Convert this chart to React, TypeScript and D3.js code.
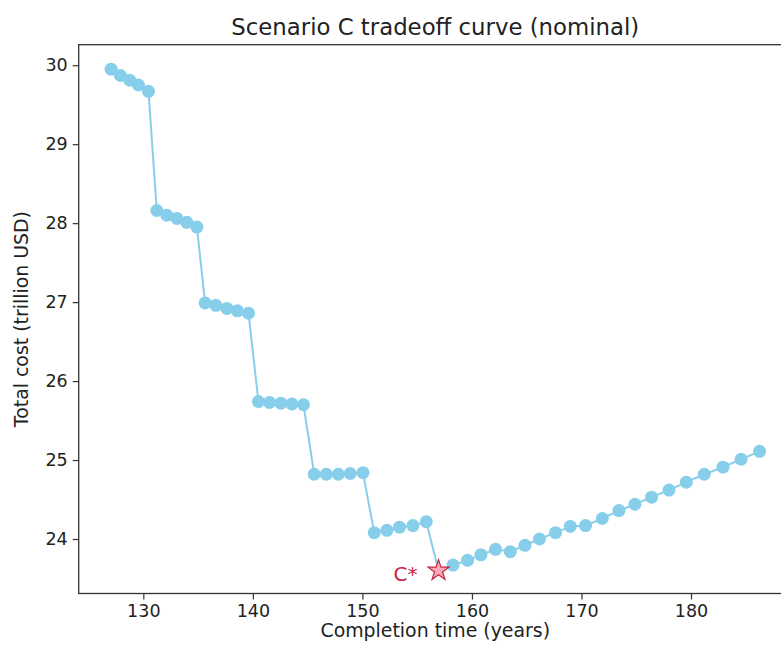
import { useEffect, useRef } from "react";
import * as d3 from "d3";

// completion time (years) and total cost (trillion USD)
const years = [
  127.06, 127.91, 128.77, 129.55, 130.47,
  131.23, 132.15, 133.06, 133.97, 134.89,
  135.64, 136.62, 137.63, 138.59, 139.6,
  140.51, 141.52, 142.56, 143.56, 144.62,
  145.6, 146.7, 147.8, 148.89, 150.05,
  151.08, 152.24, 153.39, 154.61, 155.83,
  156.95,
  158.27, 159.6, 160.82, 162.16, 163.5, 164.84, 166.17, 167.63, 168.98, 170.37,
  171.9, 173.42, 174.88, 176.4, 177.99, 179.57, 181.21, 182.92, 184.57, 186.26,
];
const costs = [
  29.95, 29.87, 29.81, 29.75, 29.67,
  28.16, 28.1, 28.06, 28.01, 27.95,
  26.99, 26.96, 26.92, 26.89, 26.86,
  25.74, 25.73, 25.72, 25.71, 25.7,
  24.82, 24.82, 24.82, 24.83, 24.84,
  24.08, 24.11, 24.15, 24.17, 24.22,
  23.6,
  23.67, 23.73, 23.8, 23.87, 23.84, 23.92, 24.0, 24.08, 24.16, 24.17,
  24.26, 24.36, 24.44, 24.53, 24.62, 24.72, 24.82, 24.91, 25.01, 25.11,
];
const optimumIndex = 30;
const optimumLabel = "C*";
const xTicks = [130, 140, 150, 160, 170, 180];
const yTicks = [24, 25, 26, 27, 28, 29, 30];

const chartTitle = "Scenario C tradeoff curve (nominal)";
const xLabel = "Completion time (years)";
const yLabel = "Total cost (trillion USD)";

const App = () => {
  const svgRef = useRef<SVGSVGElement>(null);

  useEffect(() => {
    const W = 781;
    const H = 655;
    const left = 78.7, top = 44.7, right = 791.8, bottom = 593.5;
    const font = "DejaVu Sans, sans-serif";

    const svg = d3.select(svgRef.current).attr("width", W).attr("height", H);
    svg.selectAll("*").remove();

    const x = d3.scaleLinear().domain([124.1, 189.2]).range([left, right]);
    const y = d3.scaleLinear().domain([23.31, 30.26]).range([bottom, top]);

    const pts = years.map((v, i) => ({ x: v, y: costs[i], i }));

    // line + markers
    const line = d3.line<{ x: number; y: number }>().x((d) => x(d.x)).y((d) => y(d.y));
    svg.append("path")
      .datum(pts)
      .attr("d", line)
      .attr("fill", "none")
      .attr("stroke", "#87CEEB")
      .attr("stroke-width", 2);

    svg.selectAll(".dot")
      .data(pts.filter((d) => d.i !== optimumIndex))
      .join("circle")
      .attr("class", "dot")
      .attr("cx", (d) => x(d.x))
      .attr("cy", (d) => y(d.y))
      .attr("r", 6.5)
      .attr("fill", "#87CEEB");

    // optimum star + label
    const opt = pts[optimumIndex];
    svg.append("path")
      .attr("d", d3.symbol().type(d3.symbolStar).size(136)())
      .attr("transform", `translate(${x(opt.x)},${y(opt.y)})`)
      .attr("fill", "#f7a9b9")
      .attr("stroke", "#c8243f")
      .attr("stroke-width", 1.2);
    svg.append("text")
      .attr("x", x(opt.x) - 21)
      .attr("y", y(opt.y) + 10)
      .attr("text-anchor", "end")
      .attr("font-family", font)
      .attr("font-size", 20)
      .attr("fill", "#c8243f")
      .text(optimumLabel);

    // axes
    const xAxis = svg.append("g")
      .attr("transform", `translate(0,${bottom})`)
      .call(d3.axisBottom(x).tickValues(xTicks).tickSize(6).tickPadding(5).tickFormat(d3.format("d")));
    const yAxis = svg.append("g")
      .attr("transform", `translate(${left},0)`)
      .call(d3.axisLeft(y).tickValues(yTicks).tickSize(6).tickPadding(5).tickFormat(d3.format("d")));
    [xAxis, yAxis].forEach((g) => {
      g.select(".domain").remove();
      g.selectAll("line").attr("stroke", "#333").attr("stroke-width", 1.2);
      g.selectAll("text").attr("font-family", font).attr("font-size", 17.5).attr("fill", "#222");
    });

    // spines
    svg.append("rect")
      .attr("x", left)
      .attr("y", top)
      .attr("width", right - left)
      .attr("height", bottom - top)
      .attr("fill", "none")
      .attr("stroke", "#333")
      .attr("stroke-width", 1.3);

    svg.append("text")
      .attr("x", (left + right) / 2)
      .attr("y", 35)
      .attr("text-anchor", "middle")
      .attr("font-family", font)
      .attr("font-size", 22.8)
      .attr("fill", "#222")
      .text(chartTitle);

    svg.append("text")
      .attr("x", (left + right) / 2)
      .attr("y", 637)
      .attr("text-anchor", "middle")
      .attr("font-family", font)
      .attr("font-size", 18.9)
      .attr("fill", "#222")
      .text(xLabel);

    svg.append("text")
      .attr("transform", `translate(28,${(top + bottom) / 2}) rotate(-90)`)
      .attr("text-anchor", "middle")
      .attr("font-family", font)
      .attr("font-size", 18.9)
      .attr("fill", "#222")
      .text(yLabel);
  }, []);

  return (
    <div style={{ position: "absolute", left: 0, top: 0 }}>
      <svg ref={svgRef}></svg>
    </div>
  );
};

export default App;
